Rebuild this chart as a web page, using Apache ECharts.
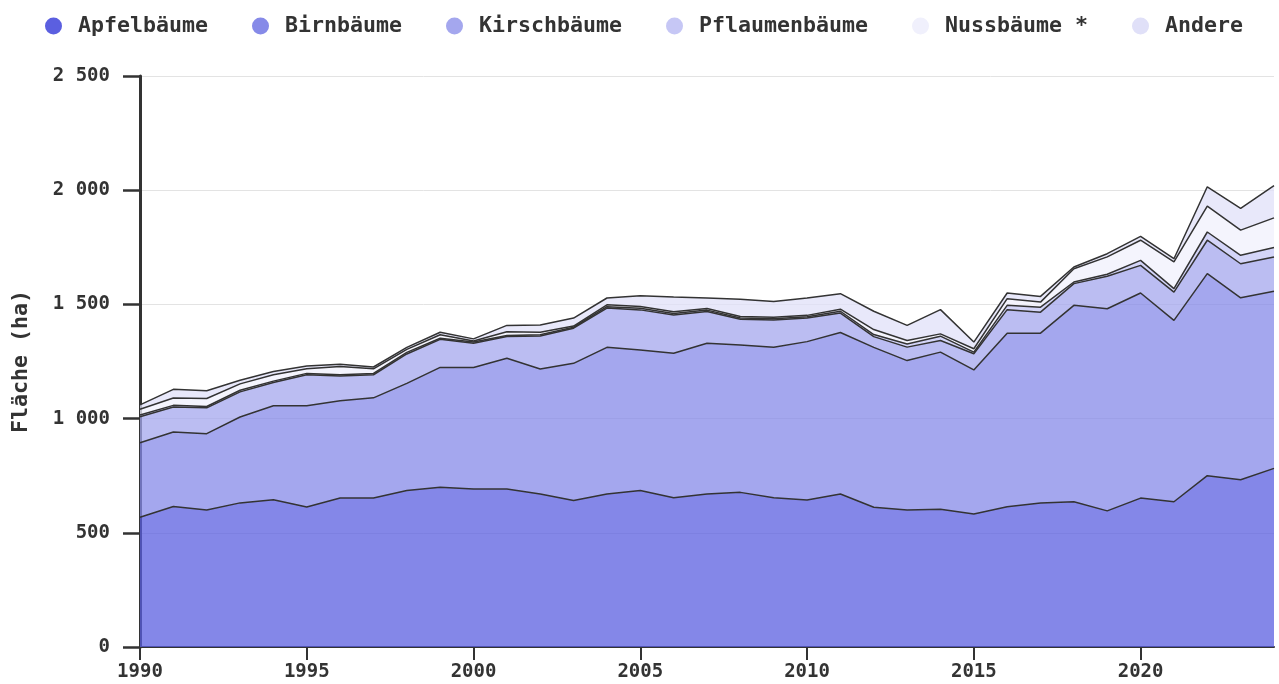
<!DOCTYPE html>
<html>
<head>
<meta charset="utf-8">
<script src="https://cdn.jsdelivr.net/npm/echarts@6.0.0/dist/echarts.min.js"></script>
<style>
  html, body { margin: 0; padding: 0; background: #fff; }
  #chart { width: 1279px; height: 684px; }
</style>
</head>
<body>
<div id="chart"></div>
<script>
// Jahre und Flächen (ha) je Baumart
var years = [1990, 1991, 1992, 1993, 1994, 1995, 1996, 1997, 1998, 1999, 2000, 2001,
  2002, 2003, 2004, 2005, 2006, 2007, 2008, 2009, 2010, 2011, 2012, 2013, 2014,
  2015, 2016, 2017, 2018, 2019, 2020, 2021, 2022, 2023, 2024];
var apfel = [568, 615, 600, 631, 645, 613, 652, 652, 685, 699, 692, 692,
  670, 641, 670, 685, 653, 670, 677, 653, 644, 670, 612, 600, 603,
  582, 614, 630, 636, 596, 652, 636, 750, 732, 782];
var birn = [326, 326, 334, 376, 411, 443, 426, 439, 469, 525, 532, 572,
  547, 601, 642, 615, 633, 660, 645, 659, 693, 707, 700, 654, 688,
  631, 760, 744, 860, 885, 898, 794, 885, 797, 776];
var kirsch = [114, 110, 113, 110, 102, 136, 108, 101, 129, 123, 106, 95,
  145, 154, 172, 176, 168, 139, 113, 120, 103, 85, 47, 59, 51,
  71, 103, 92, 95, 142, 121, 124, 146, 149, 150];
var pflaumen = [8, 7, 6, 7, 6, 6, 6, 6, 7, 5, 5, 5,
  5, 4, 6, 7, 6, 6, 5, 5, 6, 8, 9, 14, 19,
  7, 19, 22, 7, 9, 22, 15, 36, 37, 41];
var nuss = [25, 32, 35, 28, 28, 20, 36, 20, 13, 15, 5, 16,
  11, 5, 8, 8, 8, 7, 7, 7, 6, 9, 22, 15, 10,
  15, 29, 22, 58, 76, 88, 117, 113, 110, 130];
var andere = [19, 38, 34, 16, 14, 12, 10, 8, 9, 11, 9, 28,
  32, 35, 30, 47, 64, 46, 76, 69, 76, 68, 80, 66, 106,
  29, 25, 25, 8, 14, 17, 14, 85, 95, 141];

var names = ["Apfelbäume", "Birnbäume", "Kirschbäume", "Pflaumenbäume", "Nussbäume *", "Andere"];
var colors = ["#5b5fe0", "#868ae8", "#a4a7ee", "#c6c7f5", "#f0f0fc", "#e0e0f8"];

var font = "DejaVu Sans Mono";

function makeSeries(name, values) {
  return {
    name: name,
    type: "line",
    stack: "flaeche",
    symbol: "none",
    data: values,
    lineStyle: { color: "#333", width: 1.5 },
    areaStyle: { opacity: 0.75 }
  };
}

var myChart = echarts.init(document.getElementById("chart"));

var option = {
  animation: false,
  color: colors,
  textStyle: { fontFamily: font },
  legend: {
    left: 40,
    top: 10,
    icon: "circle",
    itemWidth: 17,
    itemHeight: 17,
    itemGap: 44,
    textStyle: {
      fontFamily: font,
      fontSize: 21.6,
      fontWeight: "bold",
      color: "#333",
      padding: [0, 0, 0, 11]
    },
    data: names
  },
  grid: { left: 140, right: 5, top: 76, bottom: 37 },
  xAxis: {
    type: "category",
    data: years,
    boundaryGap: false,
    axisLine: { lineStyle: { color: "#333", width: 2 } },
    axisTick: { length: 13, interval: 4, lineStyle: { color: "#333", width: 2 } },
    axisLabel: {
      interval: 4,
      margin: 16,
      fontFamily: font,
      fontSize: 19,
      fontWeight: "bold",
      color: "#333"
    },
    splitLine: { show: false }
  },
  yAxis: {
    type: "value",
    min: 0,
    max: 2500,
    interval: 500,
    name: "Fläche (ha)",
    nameLocation: "middle",
    nameGap: 108,
    nameTextStyle: { fontFamily: font, fontSize: 21.6, fontWeight: "bold", color: "#333" },
    axisLine: { show: true, lineStyle: { color: "#333", width: 3 } },
    axisTick: { show: true, length: 17, lineStyle: { color: "#333", width: 2.5 } },
    axisLabel: {
      margin: 30,
      fontFamily: font,
      fontSize: 19,
      fontWeight: "bold",
      color: "#333",
      formatter: function (v) {
        return String(v).replace(/\B(?=(\d{3})+(?!\d))/g, " ");
      }
    },
    splitLine: { lineStyle: { color: "#e3e3e3", width: 1 } }
  },
  series: [
    makeSeries(names[0], apfel),
    makeSeries(names[1], birn),
    makeSeries(names[2], kirsch),
    makeSeries(names[3], pflaumen),
    makeSeries(names[4], nuss),
    makeSeries(names[5], andere)
  ]
};

myChart.setOption(option);
</script>
</body>
</html>
